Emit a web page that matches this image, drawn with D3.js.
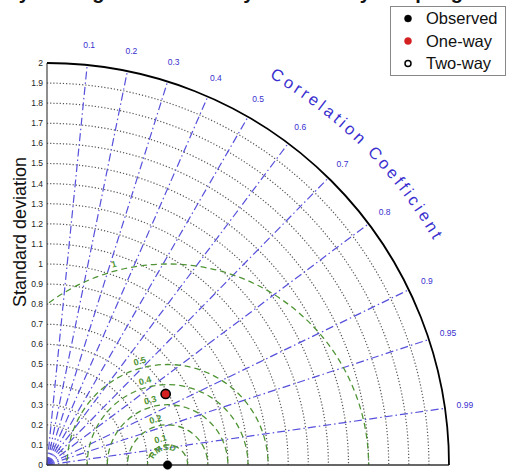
<!DOCTYPE html>
<html>
<head>
<meta charset="utf-8">
<script src="https://cdn.jsdelivr.net/npm/d3@7"></script>
<style>
body { margin: 0; background: #fff; }
text { font-family: "Liberation Sans", Arial, sans-serif; }
</style>
</head>
<body>
<div id="chart"></div>
<script>
var stdTicks  = [0, 0.1, 0.2, 0.3, 0.4, 0.5, 0.6, 0.7, 0.8, 0.9, 1, 1.1, 1.2, 1.3, 1.4, 1.5, 1.6, 1.7, 1.8, 1.9, 2]
var stdLabels = ['0', '0.1', '0.2', '0.3', '0.4', '0.5', '0.6', '0.7', '0.8', '0.9', '1', '1.1', '1.2', '1.3', '1.4', '1.5', '1.6', '1.7', '1.8', '1.9', '2']
var corTicks  = [0.1, 0.2, 0.3, 0.4, 0.5, 0.6, 0.7, 0.8, 0.9, 0.95, 0.99]
var corLabels = ['0.1', '0.2', '0.3', '0.4', '0.5', '0.6', '0.7', '0.8', '0.9', '0.95', '0.99']
var rmsTicks  = [0.1, 0.2, 0.3, 0.4, 0.5, 1]
var rmsLabels = ['0.1', '0.2', '0.3', '0.4', '0.5', '1']

var names  = ['Observed', 'One-way', 'Two-way']
var sdev   = [0.6, 0.688, 0.688]
var ccoef  = [1, 0.858, 0.858]

var blue = '#5650dc', blueText = '#3a30cf', green = '#4f9434'

var svg = d3.select('#chart').append('svg')
  .attr('width', 508).attr('height', 471)

var ox = 47, oy = 465
var r = d3.scaleLinear().domain([0, 2]).range([0, 402])
var rmax = r(2)

function px(s, c){ return ox + r(s) * c }
function py(s, c){ return oy - r(s) * Math.sqrt(1 - c * c) }

// clip to the quarter disc
svg.append('clipPath').attr('id', 'quarter')
  .append('path')
  .attr('d', 'M' + ox + ',' + oy + 'L' + ox + ',' + (oy - rmax) +
    'A' + rmax + ',' + rmax + ' 0 0 1 ' + (ox + rmax) + ',' + oy + 'Z')

// title (only its descenders reach into the picture)
svg.append('text')
  .attr('x', 230).attr('y', -1.5)
  .attr('text-anchor', 'middle')
  .attr('fill', '#111')
  .style('font-size', '20px').style('font-weight', 'bold')
  .text('Taylor Diagram of One-way vs Two-way Coupling')

// std dotted arcs
stdTicks.filter(d => d > 0 && d < 2).forEach(function(s){
  var p = d3.path()
  p.moveTo(ox, oy - r(s))
  p.arc(ox, oy, r(s), -Math.PI / 2, 0)
  svg.append('path')
    .attr('d', p.toString())
    .attr('fill', 'none')
    .attr('stroke', '#555')
    .attr('stroke-width', 1.2)
    .attr('stroke-dasharray', '1.2,2')
})

// correlation rays
svg.selectAll('line.cor').data(corTicks).enter().append('line')
  .attr('class', 'cor')
  .attr('x1', ox).attr('y1', oy)
  .attr('x2', d => px(2, d)).attr('y2', d => py(2, d))
  .attr('stroke', blue)
  .attr('stroke-width', 1.2)
  .attr('stroke-dasharray', '8,3,1.5,3')

// centered RMS circles around the observation
var obsX = px(sdev[0], ccoef[0])
var rmsG = svg.append('g').attr('clip-path', 'url(#quarter)')
rmsG.selectAll('circle').data(rmsTicks).enter().append('circle')
  .attr('cx', obsX).attr('cy', oy)
  .attr('r', d => r(d))
  .attr('fill', 'none')
  .attr('stroke', green)
  .attr('stroke-width', 1.3)
  .attr('stroke-dasharray', '6,4')

var la = 105 * Math.PI / 180
svg.selectAll('text.rms').data(rmsTicks).enter().append('text')
  .attr('class', 'rms')
  .attr('transform', function(d){
    var x = obsX + r(d + 0.035) * Math.cos(la)
    var y = oy - r(d + 0.035) * Math.sin(la)
    return 'translate(' + x + ',' + y + ') rotate(-15)'
  })
  .attr('text-anchor', 'middle')
  .attr('dy', '0.35em')
  .attr('fill', green)
  .style('font-size', '9px').style('font-weight', 'bold')
  .text((d, i) => rmsLabels[i])

// RMSD label curved around the observation
var rr = 15, a0 = 170 * Math.PI / 180, a1 = 50 * Math.PI / 180
svg.append('path').attr('id', 'rmsdPath')
  .attr('fill', 'none')
  .attr('d', 'M' + (obsX + rr * Math.cos(a0)) + ',' + (oy - rr * Math.sin(a0)) +
    'A' + rr + ',' + rr + ' 0 0 1 ' + (obsX + rr * Math.cos(a1)) + ',' + (oy - rr * Math.sin(a1)))
svg.append('text')
  .attr('fill', green)
  .style('font-size', '8.5px').style('font-weight', 'bold')
  .append('textPath')
  .attr('href', '#rmsdPath')
  .attr('startOffset', '50%')
  .attr('text-anchor', 'middle')
  .text('RMSD')

// axes and outer arc
svg.append('line')
  .attr('x1', ox).attr('y1', oy).attr('x2', ox).attr('y2', oy - rmax)
  .attr('stroke', '#444').attr('stroke-width', 1.2)
svg.append('line')
  .attr('x1', ox).attr('y1', oy).attr('x2', ox + rmax).attr('y2', oy)
  .attr('stroke', '#333').attr('stroke-width', 1.5)
var outer = d3.path()
outer.moveTo(ox, oy - rmax)
outer.arc(ox, oy, rmax, -Math.PI / 2, 0)
svg.append('path').attr('d', outer.toString())
  .attr('fill', 'none').attr('stroke', '#000').attr('stroke-width', 1.8)

// std tick labels
svg.selectAll('text.std').data(stdTicks).enter().append('text')
  .attr('class', 'std')
  .attr('x', ox - 4)
  .attr('y', d => oy - r(d))
  .attr('dy', '0.35em')
  .attr('text-anchor', 'end')
  .attr('fill', '#222')
  .style('font-size', '8.5px')
  .text((d, i) => stdLabels[i])

svg.append('text')
  .attr('transform', 'translate(26,232) rotate(-90)')
  .attr('text-anchor', 'middle')
  .attr('fill', '#111')
  .style('font-size', '18px')
  .text('Standard deviation')

// correlation tick labels
svg.selectAll('text.cor').data(corTicks).enter().append('text')
  .attr('class', 'cor')
  .attr('x', d => px(2.1, d))
  .attr('y', d => py(2.1, d))
  .attr('dy', '0.35em')
  .attr('text-anchor', 'middle')
  .attr('fill', blueText)
  .style('font-size', '8.5px')
  .text((d, i) => corLabels[i])

var rc = 447, c0 = 61 * Math.PI / 180, c1 = 29 * Math.PI / 180
svg.append('path').attr('id', 'corPath')
  .attr('fill', 'none')
  .attr('d', 'M' + (ox + rc * Math.cos(c0)) + ',' + (oy - rc * Math.sin(c0)) +
    'A' + rc + ',' + rc + ' 0 0 1 ' + (ox + rc * Math.cos(c1)) + ',' + (oy - rc * Math.sin(c1)))
svg.append('text')
  .attr('fill', blueText)
  .style('font-size', '16.5px')
  .style('letter-spacing', '3.2px')
  .append('textPath')
  .attr('href', '#corPath')
  .attr('startOffset', '50%')
  .attr('text-anchor', 'middle')
  .text('Correlation Coefficient')

// points
var fills = ['#000', '#d42020', 'none']
var strokes = ['#000', '#d42020', '#000']
names.forEach(function(n, i){
  svg.append('circle')
    .attr('cx', px(sdev[i], ccoef[i]))
    .attr('cy', py(sdev[i], ccoef[i]))
    .attr('r', i == 2 ? 4.6 : 4.3)
    .attr('fill', fills[i])
    .attr('stroke', strokes[i])
    .attr('stroke-width', i == 2 ? 1.6 : 0.5)
})

// legend
var lg = svg.append('g')
lg.append('rect')
  .attr('x', 390.5).attr('y', 6.5).attr('width', 115).attr('height', 69)
  .attr('fill', '#fff').attr('stroke', '#888').attr('stroke-width', 1)
names.forEach(function(n, i){
  var y = 18.5 + i * 22.5
  lg.append('circle')
    .attr('cx', 408).attr('cy', y).attr('r', i == 2 ? 3 : 3.5)
    .attr('fill', fills[i]).attr('stroke', strokes[i])
    .attr('stroke-width', i == 2 ? 1.5 : 0.5)
  lg.append('text')
    .attr('x', 426).attr('y', y).attr('dy', '0.36em')
    .attr('fill', '#111')
    .style('font-size', '16.5px')
    .text(n)
})
</script>
</body>
</html>
